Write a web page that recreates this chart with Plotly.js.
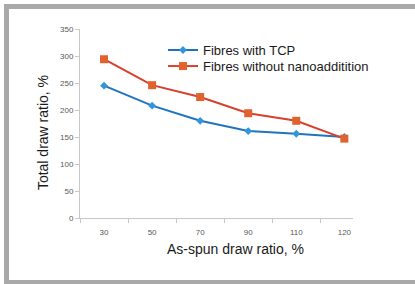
<!DOCTYPE html>
<html>
<head>
<meta charset="utf-8">
<script src="https://cdn.plot.ly/plotly-3.0.1.min.js"></script>
<style>
  html, body { margin: 0; padding: 0; background: #ffffff; }
  #frame { position: absolute; left: 4px; top: 4px; width: 420px; height: 271px;
           border-top: 5px solid #a9a9a9; border-left: 5px solid #a9a9a9; border-bottom: 5px solid #a9a9a9; }
  #chart { position: absolute; left: 0; top: 0; width: 415px; height: 284px; }
</style>
</head>
<body>
<div id="frame"></div>
<div id="chart"></div>
<script>
const categories = ["30", "50", "70", "90", "110", "120"];
const withTCP = [245, 208, 180, 161, 156, 150];
const withoutNano = [294, 246, 224, 194, 180, 147];
const seriesNames = ["Fibres with TCP", "Fibres without nanoadditition"];
const yTicks = [0, 50, 100, 150, 200, 250, 300, 350];

const traces = [
  {
    x: categories, y: withTCP, name: seriesNames[0], type: "scatter", mode: "lines+markers",
    line: { color: "#1f74bd", width: 2 },
    marker: { symbol: "diamond", size: 6, color: "#3196dc" },
    legend: "legend"
  },
  {
    x: categories, y: withoutNano, name: seriesNames[1], type: "scatter", mode: "lines+markers",
    line: { color: "#d8402c", width: 2 },
    marker: { symbol: "square", size: 8, color: "#e0622f" },
    legend: "legend2"
  }
];

const legendBase = {
  xanchor: "left", yanchor: "top",
  bgcolor: "rgba(0,0,0,0)",
  font: { size: 13, color: "#1a1a1a" },
  itemwidth: 30
};

const layout = {
  width: 415, height: 284,
  margin: { l: 80, r: 62, t: 29, b: 66 },
  paper_bgcolor: "rgba(0,0,0,0)",
  plot_bgcolor: "rgba(0,0,0,0)",
  font: { family: "Liberation Sans, Arial, sans-serif", color: "#222222" },
  showlegend: true,
  legend: Object.assign({}, legendBase, { x: 0.304, y: 0.968 }),
  legend2: Object.assign({}, legendBase, { x: 0.304, y: 0.883 }),
  xaxis: {
    type: "category", range: [-0.5, 5.18],
    showline: true, linecolor: "#c8c8c8", linewidth: 1,
    ticks: "outside", tickson: "boundaries", ticklen: 4, tickcolor: "#c8c8c8",
    showgrid: false, zeroline: false,
    tickfont: { size: 8, color: "#595959" },
    ticklabelstandoff: 6
  },
  yaxis: {
    range: [0, 350], tickvals: yTicks,
    showline: true, linecolor: "#c8c8c8", linewidth: 1,
    ticks: "outside", ticklen: 4, tickcolor: "#c8c8c8",
    showgrid: false, zeroline: false,
    tickfont: { size: 8, color: "#595959" }
  },
  annotations: [
    { text: "As-spun draw ratio, %", xref: "paper", yref: "paper", x: 0.57, y: -0.165,
      xanchor: "center", yanchor: "middle", showarrow: false,
      font: { size: 14, color: "#1a1a1a" } },
    { text: "Total draw ratio, %", xref: "paper", yref: "paper", x: -0.135, y: 0.45,
      xanchor: "center", yanchor: "middle", showarrow: false, textangle: -90,
      font: { size: 14, color: "#1a1a1a" } }
  ]
};

Plotly.newPlot("chart", traces, layout, { displayModeBar: false, staticPlot: true });
</script>
</body>
</html>
